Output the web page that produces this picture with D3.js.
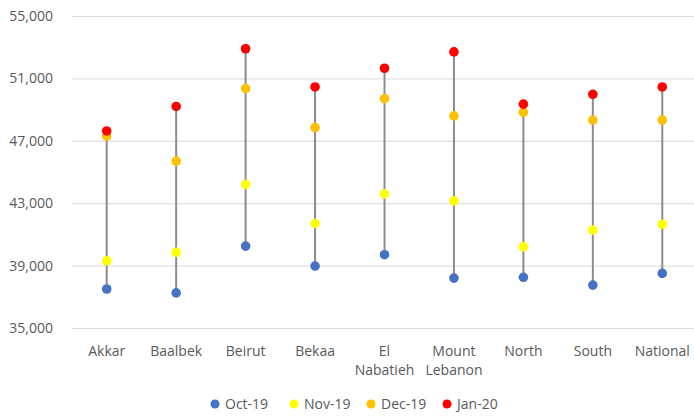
<!DOCTYPE html>
<html>
<head>
<meta charset="utf-8">
<script src="https://cdn.jsdelivr.net/npm/d3@7"></script>
<style>
  html, body { margin: 0; padding: 0; background: #fff; }
  svg { display: block; }
  text { font-family: "Open Sans", "Noto Sans", sans-serif; fill: #595959; }
</style>
</head>
<body>
<svg id="chart" width="694" height="416"></svg>
<script>
// Regions (multi-word names are wrapped onto two lines)
const regions = ["Akkar", "Baalbek", "Beirut", "Bekaa", "El Nabatieh", "Mount Lebanon", "North", "South", "National"];

// Monthly values per region
const oct19 = [37500, 37250, 40250, 38970, 39700, 38200, 38250, 37750, 38500];
const nov19 = [39300, 39850, 44200, 41700, 43600, 43150, 40200, 41280, 41650];
const dec19 = [47300, 45700, 50350, 47850, 49700, 48600, 48830, 48330, 48330];
const jan20 = [47630, 49200, 52900, 50450, 51650, 52700, 49350, 49980, 50450];

const seriesNames = ["Oct-19", "Nov-19", "Dec-19", "Jan-20"];
const seriesColors = ["#4472C4", "#FFFF00", "#FFC000", "#FF0000"];
const yTicks = [35000, 39000, 43000, 47000, 51000, 55000];

const series = [oct19, nov19, dec19, jan20];

const svg = d3.select("#chart");
const margin = { left: 72, right: -3, top: 16, bottom: 88 };
const W = 694, H = 416;
const fontSize = "14px";

const x = d3.scaleBand()
  .domain(regions)
  .range([margin.left, W - margin.right])
  .paddingInner(0).paddingOuter(0);

const y = d3.scaleLinear()
  .domain([35000, 55000])
  .range([H - margin.bottom, margin.top]);

// Horizontal gridlines and value labels
const yAxis = d3.axisLeft(y)
  .tickValues(yTicks)
  .tickSize(-(W - margin.left - margin.right))
  .tickPadding(19)
  .tickFormat(d3.format(","));

const gy = svg.append("g")
  .attr("transform", `translate(${margin.left},0)`)
  .call(yAxis);
gy.select(".domain").remove();
gy.selectAll(".tick line").attr("stroke", "#d9d9d9").attr("stroke-width", 1);
gy.selectAll(".tick text")
  .attr("fill", "#595959")
  .style("font-size", fontSize);

// Category labels
const gx = svg.append("g")
  .attr("transform", `translate(0,${H - margin.bottom})`)
  .call(d3.axisBottom(x).tickSize(0).tickPadding(0).tickFormat(""));
gx.select(".domain").remove();
gx.selectAll(".tick").each(function(d) {
  const words = d.split(" ");
  const t = d3.select(this).append("text")
    .attr("text-anchor", "middle")
    .attr("fill", "#595959")
    .style("font-size", fontSize);
  words.forEach((w, i) => {
    t.append("tspan").attr("x", 0).attr("y", 28 + i * 19).text(w);
  });
});

// Vertical range lines from lowest to highest value
const cx = d => x(d) + x.bandwidth() / 2;
svg.append("g").selectAll("line")
  .data(regions)
  .join("line")
  .attr("x1", cx).attr("x2", cx)
  .attr("y1", (d, i) => y(d3.min(series, s => s[i])))
  .attr("y2", (d, i) => y(d3.max(series, s => s[i])))
  .attr("stroke", "#8c8c8c")
  .attr("stroke-width", 2);

// Dots for each month
series.forEach((s, k) => {
  svg.append("g").selectAll("circle")
    .data(regions)
    .join("circle")
    .attr("cx", cx)
    .attr("cy", (d, i) => y(s[i]))
    .attr("r", 4.8)
    .attr("fill", seriesColors[k]);
});

// Legend
const legendX = [215, 294, 371, 447];
const lg = svg.append("g").attr("transform", "translate(0,404)");
seriesNames.forEach((n, k) => {
  const g = lg.append("g").attr("transform", `translate(${legendX[k]},0)`);
  g.append("circle").attr("r", 4.5).attr("fill", seriesColors[k]);
  g.append("text").attr("x", 10).attr("dy", "0.35em")
    .attr("fill", "#595959")
    .style("font-size", fontSize)
    .text(n);
});
</script>
</body>
</html>
